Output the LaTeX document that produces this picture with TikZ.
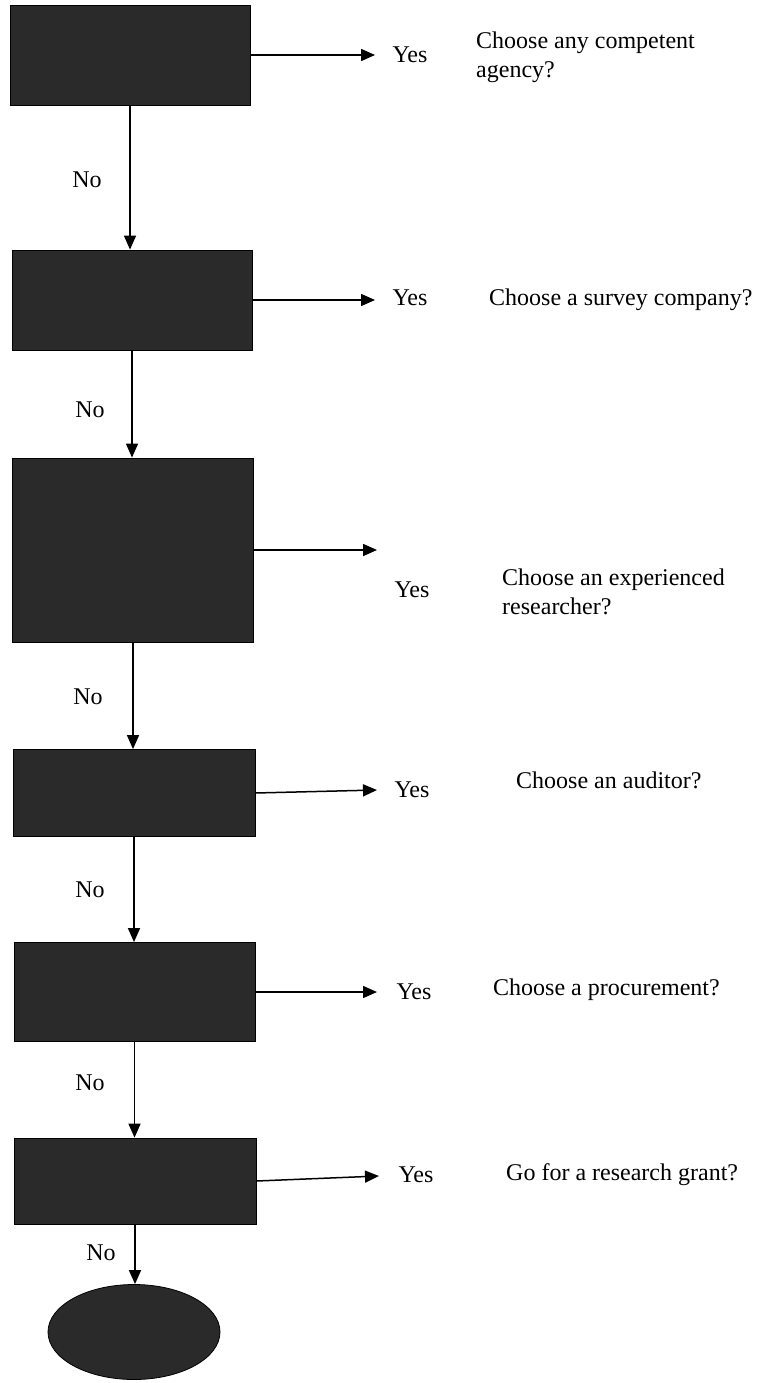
\documentclass[tikz,border=0pt]{standalone}
\usepackage{fontspec}
\setmainfont{Liberation Serif}
\usetikzlibrary{arrows.meta,shapes.geometric}
\definecolor{boxgray}{RGB}{42,42,42}
\tikzset{
  dbox/.style={rectangle,fill=boxgray,draw=black,line width=0.8pt,inner sep=0pt},
  lbl/.style={inner sep=0pt,font=\fontsize{24}{29}\selectfont},
  ans/.style={inner sep=0pt,anchor=west,align=left,font=\fontsize{24}{29}\selectfont},
  arr/.style={line width=1.5pt,-{Triangle[length=14pt,width=12pt]}}
}
\begin{document}
\begin{tikzpicture}[x=1pt,y=-1pt]
\useasboundingbox (0,0) rectangle (757,1383);
% boxes
\node[dbox,minimum width=240pt,minimum height=100pt] (b1) at (130,55) {};
\node[dbox,minimum width=240pt,minimum height=100pt] (b2) at (132,300) {};
\node[dbox,minimum width=241pt,minimum height=184pt] (b3) at (133,550) {};
\node[dbox,minimum width=242pt,minimum height=87pt] (b4) at (134,793) {};
\node[dbox,minimum width=241pt,minimum height=99pt] (b5) at (134.5,992) {};
\node[dbox,minimum width=242pt,minimum height=86pt] (b6) at (135,1181) {};
\node[ellipse,fill=boxgray,draw=black,line width=0.8pt,minimum width=172pt,minimum height=95pt,inner sep=0pt] (e) at (134,1332) {};
% vertical arrows
\draw[arr] (b1.south) -- (b1.south |- b2.north);
\draw[arr] (b2.south) -- (b2.south |- b3.north);
\draw[arr] (b3.south) -- (b3.south |- b4.north);
\draw[arr] (b4.south) -- (b4.south |- b5.north);
\draw[arr] (b5.south) -- (b5.south |- b6.north);
\draw[arr] (b6.south) -- (b6.south |- e.north);
% No labels
\node[lbl] (n1) at (87,180) {No};
\node[lbl] (n2) at (90,410) {No};
\node[lbl] (n3) at (88,697) {No};
\node[lbl] (n4) at (90,890) {No};
\node[lbl] (n5) at (90,1083) {No};
\node[lbl] (n6) at (101,1253) {No};
% arrow ends
\coordinate (t1) at (375,55);
\coordinate (t2) at (375,300);
\coordinate (t3) at (377,550);
\coordinate (t4) at (377,790);
\coordinate (t5) at (377,992);
\coordinate (t6) at (379,1176);
\draw[arr] (b1.east) -- (t1);
\draw[arr] (b2.east) -- (t2);
\draw[arr] (b3.east) -- (t3);
\draw[arr] (b4.east) -- (t4);
\draw[arr] (b5.east) -- (t5);
\draw[arr] (b6.east) -- (t6);
% Yes labels
\node[lbl] (y1) at (410,55) {Yes};
\node[lbl] (y2) at (410,298) {Yes};
\node[lbl] (y3) at (412,590) {Yes};
\node[lbl] (y4) at (412,790) {Yes};
\node[lbl] (y5) at (414,992) {Yes};
\node[lbl] (y6) at (416,1175) {Yes};
% answers
\node[ans] (a1) at (476,57) {Choose any competent\\agency?};
\node[ans] (a2) at (489,300) {Choose a survey company?};
\node[ans] (a3) at (502,592) {Choose an experienced\\researcher?};
\node[ans] (a4) at (516,780) {Choose an auditor?};
\node[ans] (a5) at (493,990) {Choose a procurement?};
\node[ans] (a6) at (506,1175) {Go for a research grant?};
\end{tikzpicture}
\end{document}
